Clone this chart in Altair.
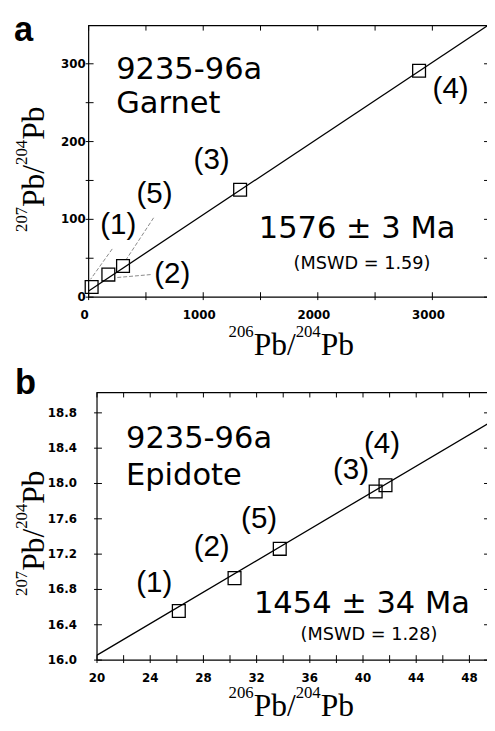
import altair as alt
import pandas as pd

# ---------------- Panel a : Garnet ----------------
a_labels = ["(1)", "(2)", "(3)", "(4)", "(5)"]
a_x = [26, 172, 1322, 2884, 300]
a_y = [13, 29, 138, 291, 40]
a_lab_x = [258, 730, 1073, 3159, 575]
a_lab_y = [92, 30, 176, 267, 132]
a_fit_x = [0, 3480]
a_fit_y = [8, 349]
a_lead_x1 = [206, 541, 567]
a_lead_y1 = [62, 29, 102]
a_lead_x2 = [17, 232, 326]
a_lead_y2 = [23, 25, 48]
a_x_domain = [0, 3494]
a_y_domain = [0, 349]
a_xticks = [0, 1000, 2000, 3000]
a_xminor = [500, 1500, 2500]
a_yticks = [0, 100, 200, 300]
a_yminor = [50, 150, 250]
a_name = ["9235-96a", "Garnet"]
a_name_x = [240, 240]
a_name_y = [292, 248]
a_age = ["1576 ± 3 Ma"]
a_age_x = [1485]
a_age_y = [87]
a_mswd = ["(MSWD = 1.59)"]
a_mswd_x = [2386]
a_mswd_y = [42]

# ---------------- Panel b : Epidote ----------------
b_labels = ["(1)", "(2)", "(3)", "(4)", "(5)"]
b_x = [26.15, 30.34, 40.95, 41.69, 33.74]
b_y = [16.556, 16.928, 17.91, 17.98, 17.26]
b_lab_x = [24.3, 28.62, 39.1, 41.43, 32.19]
b_lab_y = [16.87, 17.28, 18.15, 18.45, 17.60]
b_fit_x = [20, 49.47]
b_fit_y = [16.056, 18.685]
b_x_domain = [20, 49.47]
b_y_domain = [16.0, 19.03]
b_xticks = [20, 24, 28, 32, 36, 40, 44, 48]
b_xminor = [22, 26, 30, 34, 38, 42, 46]
b_yticks = [16.0, 16.4, 16.8, 17.2, 17.6, 18.0, 18.4, 18.8]
b_yminor = []
b_name = ["9235-96a", "Epidote"]
b_name_x = [22.18, 22.18]
b_name_y = [18.50, 18.08]
b_age = ["1454 ± 34 Ma"]
b_age_x = [31.8]
b_age_y = [16.63]
b_mswd = ["(MSWD = 1.28)"]
b_mswd_x = [40.45]
b_mswd_y = [16.28]

TITLE_X_PARTS = [("206", "sup"), ("Pb/", "main"), ("204", "sup"), ("Pb", "main")]
TITLE_Y_PARTS = [("207", "sup"), ("Pb/", "main"), ("204", "sup"), ("Pb", "main")]

TXT_FONT = "DejaVu Sans"
LAB_FONT = "Liberation Sans"
TICK_FONT = "DejaVu Sans"
SERIF = "Liberation Serif"
MAIN_FS, SUP_FS, SUP_RAISE = 32, 17, 18
TL_IN, TL_OUT = 5, 3

CANVAS_W, CANVAS_H = 487, 715

# approximate Times / Liberation Serif advance widths (em)
_W = {"P": 0.556, "b": 0.5, "/": 0.278}


def text_width(s, fs):
    return sum(_W.get(c, 0.5) for c in s) * fs


def title_pieces(parts, horizontal, center, base):
    sizes = [SUP_FS if k == "sup" else MAIN_FS for _, k in parts]
    widths = [text_width(t, fs) for (t, _), fs in zip(parts, sizes)]
    total = sum(widths)
    out = []
    pos = center - total / 2 if horizontal else center + total / 2
    for (t, kind), fs, w in zip(parts, sizes, widths):
        shift = SUP_RAISE if kind == "sup" else 0
        df = pd.DataFrame({"t": [t]})
        if horizontal:
            enc = dict(x=alt.value(pos), y=alt.value(base - shift))
            pos += w
            ang = 0
        else:
            enc = dict(x=alt.value(base - shift), y=alt.value(pos))
            pos -= w
            ang = 270
        out.append(
            alt.Chart(df).mark_text(font=SERIF, fontSize=fs, align="left",
                                    baseline="alphabetic", angle=ang,
                                    color="black").encode(text="t:N", **enc)
        )
    return out


def panel(letter, geom, xdom, ydom, xticks, xminor, yticks, yminor, yfmt,
          px, py, labels, lx, ly, fx, fy, names, nx, ny,
          age, agx, agy, mswd, mx, my, xlab_y, xlab_dx, ylab_x,
          letter_pos, xtitle, ytitle, leaders=None):
    x0, x1, y0, y1 = geom
    xs = alt.Scale(domain=xdom, range=[x0, x1], nice=False, zero=False)
    ys = alt.Scale(domain=ydom, range=[y1, y0], nice=False, zero=False)

    def X(f):
        return alt.X(f, scale=xs, axis=None)

    def Y(f):
        return alt.Y(f, scale=ys, axis=None)

    L = []
    # frame
    fr = pd.DataFrame({"x": [xdom[0]], "x2": [xdom[1]], "y": [ydom[0]], "y2": [ydom[1]]})
    L.append(alt.Chart(fr).mark_rect(fillOpacity=0, stroke="black", strokeWidth=1.2).encode(
        x=X("x:Q"), x2="x2:Q", y=Y("y:Q"), y2="y2:Q"))
    # fit line
    fit = pd.DataFrame({"x": fx, "y": fy})
    L.append(alt.Chart(fit).mark_line(color="black", strokeWidth=1.3).encode(
        x=X("x:Q"), y=Y("y:Q")))
    if leaders is not None:
        ld = pd.DataFrame({"x": leaders[0], "y": leaders[1],
                           "x2": leaders[2], "y2": leaders[3]})
        L.append(alt.Chart(ld).mark_rule(color="#555555", strokeWidth=0.7,
                                         strokeDash=[4, 2]).encode(
            x=X("x:Q"), y=Y("y:Q"), x2="x2:Q", y2="y2:Q"))
    pts = pd.DataFrame({"x": px, "y": py})
    L.append(alt.Chart(pts).mark_point(shape="square", size=170, filled=False,
                                       color="black", strokeWidth=1.3, opacity=1).encode(
        x=X("x:Q"), y=Y("y:Q")))
    lab = pd.DataFrame({"x": lx, "y": ly, "t": labels})
    L.append(alt.Chart(lab).mark_text(font=LAB_FONT, fontSize=30, color="black").encode(
        x=X("x:Q"), y=Y("y:Q"), text="t:N"))
    nm = pd.DataFrame({"x": nx, "y": ny, "t": names})
    L.append(alt.Chart(nm).mark_text(font=TXT_FONT, fontSize=31, align="left",
                                     color="black").encode(
        x=X("x:Q"), y=Y("y:Q"), text="t:N"))
    ag = pd.DataFrame({"x": agx, "y": agy, "t": age})
    L.append(alt.Chart(ag).mark_text(font=TXT_FONT, fontSize=31, align="left",
                                     color="black").encode(
        x=X("x:Q"), y=Y("y:Q"), text="t:N"))
    ms = pd.DataFrame({"x": mx, "y": my, "t": mswd})
    L.append(alt.Chart(ms).mark_text(font=TXT_FONT, fontSize=18, align="center",
                                     color="black").encode(
        x=X("x:Q"), y=Y("y:Q"), text="t:N"))
    # ticks
    xt = pd.DataFrame({"x": xticks + xminor})
    L.append(alt.Chart(xt).mark_rule(color="black").encode(
        x=X("x:Q"), y=alt.value(y1 - TL_IN), y2=alt.value(y1 + TL_OUT)))
    L.append(alt.Chart(xt).mark_rule(color="black").encode(
        x=X("x:Q"), y=alt.value(y0), y2=alt.value(y0 + TL_IN)))
    yt = pd.DataFrame({"y": yticks + yminor})
    L.append(alt.Chart(yt).mark_rule(color="black").encode(
        y=Y("y:Q"), x=alt.value(x0 - TL_OUT), x2=alt.value(x0 + TL_IN)))
    L.append(alt.Chart(yt).mark_rule(color="black").encode(
        y=Y("y:Q"), x=alt.value(x1 - TL_IN), x2=alt.value(x1)))
    # tick labels
    xl = pd.DataFrame({"x": xticks, "t": [f"{v:d}" for v in xticks]})
    L.append(alt.Chart(xl).mark_text(font=TICK_FONT, fontSize=12, fontWeight="bold",
                                     baseline="alphabetic", align="center",
                                     dx=xlab_dx, color="black").encode(
        x=X("x:Q"), y=alt.value(xlab_y), text="t:N"))
    yl = pd.DataFrame({"y": yticks, "t": [format(v, yfmt) for v in yticks]})
    L.append(alt.Chart(yl).mark_text(font=TICK_FONT, fontSize=12, fontWeight="bold",
                                     baseline="middle", align="right",
                                     color="black").encode(
        y=Y("y:Q"), x=alt.value(ylab_x), text="t:N"))
    # panel letter
    L.append(alt.Chart(pd.DataFrame({"t": [letter]})).mark_text(
        font="Liberation Sans", fontSize=35, fontWeight="bold", align="left",
        baseline="alphabetic", color="black").encode(
        text="t:N", x=alt.value(letter_pos[0]), y=alt.value(letter_pos[1])))
    # axis titles with superscripts
    L += title_pieces(TITLE_X_PARTS, True, xtitle[0], xtitle[1])
    L += title_pieces(TITLE_Y_PARTS, False, ytitle[0], ytitle[1])
    return L


layers_a = panel("a", (82, 489, 12, 288), a_x_domain, a_y_domain, a_xticks, a_xminor,
                 a_yticks, a_yminor, "d",
                 a_x, a_y, a_labels, a_lab_x, a_lab_y, a_fit_x, a_fit_y,
                 a_name, a_name_x, a_name_y, a_age, a_age_x, a_age_y,
                 a_mswd, a_mswd_x, a_mswd_y,
                 xlab_y=310, xlab_dx=-4, ylab_x=79,
                 letter_pos=(6, 28), xtitle=(288, 347), ytitle=(158, 37),
                 leaders=(a_lead_x1, a_lead_y1, a_lead_x2, a_lead_y2))
layers_b = panel("b", (90.5, 489, 385, 657), b_x_domain, b_y_domain, b_xticks, b_xminor,
                 b_yticks, b_yminor, ".1f",
                 b_x, b_y, b_labels, b_lab_x, b_lab_y, b_fit_x, b_fit_y,
                 b_name, b_name_x, b_name_y, b_age, b_age_x, b_age_y,
                 b_mswd, b_mswd_x, b_mswd_y,
                 xlab_y=679, xlab_dx=0, ylab_x=70,
                 letter_pos=(7, 386), xtitle=(288, 714), ytitle=(528, 37))

chart = alt.layer(*(layers_a + layers_b)).resolve_scale(
    x="independent", y="independent"
).properties(
    width=CANVAS_W, height=CANVAS_H,
    autosize=alt.AutoSizeParams(type="none"),
    padding=0,
    background="white",
).configure_view(stroke=None)

chart.save("out.html", embed_options={"renderer": "svg", "actions": False})
